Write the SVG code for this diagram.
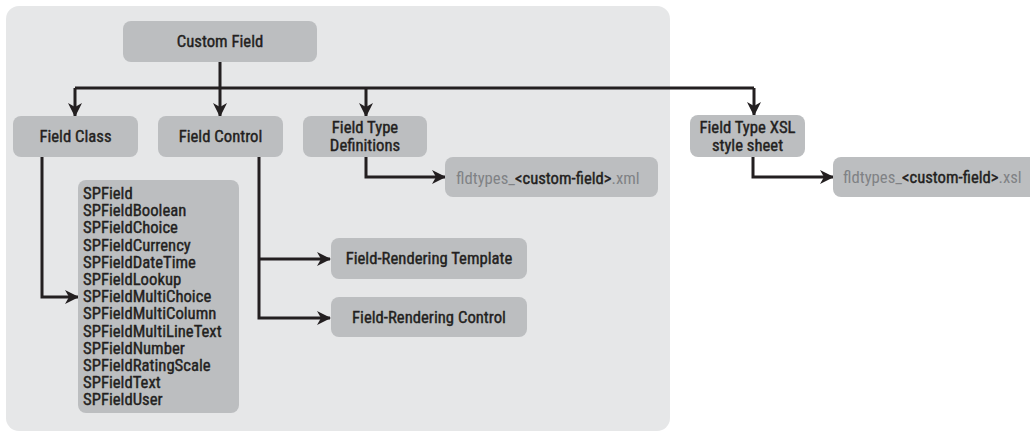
<svg xmlns="http://www.w3.org/2000/svg" width="1030" height="435" viewBox="0 0 1030 435">
  <defs>
    <marker id="arrow" markerUnits="userSpaceOnUse" markerWidth="14" markerHeight="14" refX="13" refY="7" orient="auto">
      <path d="M0,0 L14,7 L0,14 L4,7 Z" fill="#231f20"/>
    </marker>
    <style>
      .panel { fill: #e6e7e8; }
      .box { fill: #bcbec0; }
      .lbl { font-family: "Liberation Sans Narrow", "Roboto Condensed", "DejaVu Sans Condensed", sans-serif; font-size: 16.700px; fill: #231f20; stroke: #231f20; stroke-width: 0.4; text-anchor: middle; }
      .list { font-family: "Liberation Sans Narrow", "Roboto Condensed", "DejaVu Sans Condensed", sans-serif; font-size: 16.700px; fill: #231f20; stroke: #231f20; stroke-width: 0.4; }
      .file { font-family: "Liberation Sans Narrow", "Roboto Condensed", "DejaVu Sans Condensed", sans-serif; font-size: 16.700px; fill: #808285; }
      .dark { fill: #231f20; stroke: #231f20; stroke-width: 0.4; }
      .wire { fill: none; stroke: #231f20; stroke-width: 3; }
    </style>
  </defs>

  <rect class="panel" x="6" y="6" width="664" height="425" rx="13"/>

  <g id="connectors">
    <path class="wire" d="M220,62 V88"/>
    <path class="wire" d="M75,88 H754"/>
    <path class="wire" d="M75,88 V116" marker-end="url(#arrow)"/>
    <path class="wire" d="M220,88 V116" marker-end="url(#arrow)"/>
    <path class="wire" d="M366,88 V116" marker-end="url(#arrow)"/>
    <path class="wire" d="M754,88 V115" marker-end="url(#arrow)"/>
    <path class="wire" d="M42,157 V297 H78" marker-end="url(#arrow)"/>
    <path class="wire" d="M259,157 V318 H330" marker-end="url(#arrow)"/>
    <path class="wire" d="M259,259 H330" marker-end="url(#arrow)"/>
    <path class="wire" d="M366,157 V177 H445" marker-end="url(#arrow)"/>
    <path class="wire" d="M753,157 V177 H833" marker-end="url(#arrow)"/>
  </g>

  <g id="custom-field">
    <rect class="box" x="123" y="21" width="194" height="41" rx="8"/>
    <text class="lbl" x="220" y="47">Custom Field</text>
  </g>

  <g id="field-class">
    <rect class="box" x="13" y="116" width="125" height="41" rx="8"/>
    <text class="lbl" x="75.500" y="142">Field Class</text>
  </g>

  <g id="field-control">
    <rect class="box" x="158" y="116" width="125" height="41" rx="8"/>
    <text class="lbl" x="220.500" y="142">Field Control</text>
  </g>

  <g id="field-type-definitions">
    <rect class="box" x="303" y="116" width="124" height="41" rx="8"/>
    <text class="lbl" x="365" y="133">Field Type</text>
    <text class="lbl" x="365" y="151">Definitions</text>
  </g>

  <g id="field-type-xsl">
    <rect class="box" x="690" y="115" width="115" height="42" rx="8"/>
    <text class="lbl" x="747.500" y="133">Field Type XSL</text>
    <text class="lbl" x="747.500" y="151">style sheet</text>
  </g>

  <g id="fldtypes-xml">
    <rect class="box" x="445" y="157" width="213" height="40" rx="8"/>
    <text class="file" x="456" y="184">fldtypes_<tspan class="dark">&lt;custom-field&gt;</tspan>.xml</text>
  </g>

  <g id="fldtypes-xsl">
    <rect class="box" x="833" y="157" width="210" height="40" rx="8"/>
    <text class="file" x="843" y="183">fldtypes_<tspan class="dark">&lt;custom-field&gt;</tspan>.xsl</text>
  </g>

  <g id="spfield-types">
    <rect class="box" x="78" y="180" width="161" height="233" rx="8"/>
    <text class="list" x="83" y="199">
      <tspan x="83" dy="0">SPField</tspan>
      <tspan x="83" dy="17.200">SPFieldBoolean</tspan>
      <tspan x="83" dy="17.200">SPFieldChoice</tspan>
      <tspan x="83" dy="17.200">SPFieldCurrency</tspan>
      <tspan x="83" dy="17.200">SPFieldDateTime</tspan>
      <tspan x="83" dy="17.200">SPFieldLookup</tspan>
      <tspan x="83" dy="17.200">SPFieldMultiChoice</tspan>
      <tspan x="83" dy="17.200">SPFieldMultiColumn</tspan>
      <tspan x="83" dy="17.200">SPFieldMultiLineText</tspan>
      <tspan x="83" dy="17.200">SPFieldNumber</tspan>
      <tspan x="83" dy="17.200">SPFieldRatingScale</tspan>
      <tspan x="83" dy="17.200">SPFieldText</tspan>
      <tspan x="83" dy="17.200">SPFieldUser</tspan>
    </text>
  </g>

  <g id="field-rendering-template">
    <rect class="box" x="331" y="238" width="196" height="41" rx="8"/>
    <text class="lbl" x="429" y="264">Field-Rendering Template</text>
  </g>

  <g id="field-rendering-control">
    <rect class="box" x="331" y="297" width="196" height="40" rx="8"/>
    <text class="lbl" x="429" y="323">Field-Rendering Control</text>
  </g>
</svg>
